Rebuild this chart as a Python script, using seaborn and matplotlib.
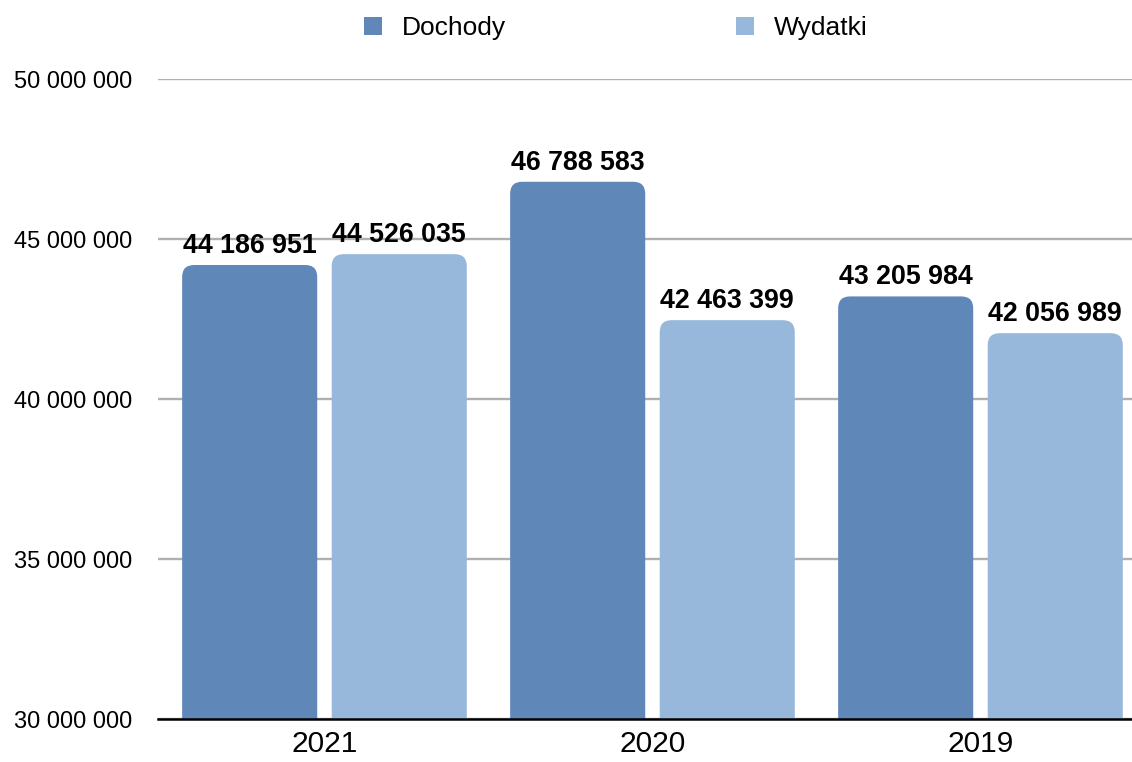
import matplotlib
matplotlib.use("Agg")
import matplotlib.pyplot as plt
import seaborn as sns
import pandas as pd
from matplotlib.patches import FancyBboxPatch, Patch
from matplotlib.transforms import IdentityTransform
from matplotlib.ticker import FuncFormatter

years = ["2021", "2020", "2019"]
dochody = [44186951, 46788583, 43205984]
wydatki = [44526035, 42463399, 42056989]
series = ["Dochody", "Wydatki"]
colors = ["#5f87b8", "#97b8da"]
yticks = [30000000, 35000000, 40000000, 45000000, 50000000]

df = pd.DataFrame({
    "rok": years * 2,
    "seria": [series[0]] * 3 + [series[1]] * 3,
    "kwota": dochody + wydatki,
})

sns.set_style("white")
plt.rcParams["font.family"] = ["Liberation Sans", "DejaVu Sans"]
plt.rcParams["text.color"] = "black"

W, H = 1132, 762
fig = plt.figure(figsize=(W / 100, H / 100), dpi=100)
ax = fig.add_axes([158 / W, 1 - 719 / H, (1132 - 158) / W, (719 - 79) / H])

sns.barplot(data=df, x="rok", y="kwota", hue="seria", order=years,
            hue_order=series, palette=colors, width=0.912, gap=0.097,
            saturation=1, legend=False, ax=ax, errorbar=None)

ax.set_xlim(-0.5075, 2.462)
ax.set_ylim(30000000, 50000000)
ax.set_yticks(yticks)
ax.yaxis.set_major_formatter(FuncFormatter(lambda v, p: f"{int(v):,}".replace(",", " ")))
ax.grid(axis="y", color="#b0b0b0", linewidth=1.7)
ax.grid(axis="x", visible=False)
ax.set_axisbelow(True)
for s in ["top", "right", "left"]:
    ax.spines[s].set_visible(False)
ax.spines["bottom"].set_color("black")
ax.spines["bottom"].set_linewidth(1.8)
ax.spines["bottom"].set_zorder(5)
ax.tick_params(axis="y", length=0, pad=18.5, labelsize=17, labelcolor="black")
ax.tick_params(axis="x", length=0, pad=8, labelsize=21.5, labelcolor="black")
ax.set_xlabel("")
ax.set_ylabel("")

for cont in ax.containers:
    ax.bar_label(cont, labels=[f"{int(v):,}".replace(",", " ") for v in cont.datavalues],
                 padding=4.5, fontsize=19.3, fontweight="bold", color="black")

# rounded top corners
for p in list(ax.patches):
    x0, y0, w, h = p.get_x(), p.get_y(), p.get_width(), p.get_height()
    (dx0, dy0) = ax.transData.transform((x0, y0))
    (dx1, dy1) = ax.transData.transform((x0 + w, y0 + h))
    rp = FancyBboxPatch((dx0, dy0), dx1 - dx0, dy1 - dy0,
                        boxstyle="round,pad=0,rounding_size=12",
                        transform=IdentityTransform(), facecolor=p.get_facecolor(),
                        edgecolor="none", zorder=2)
    ax.add_artist(rp)
    rp.set_clip_path(ax.patch)
    p.set_visible(False)

handles = [Patch(facecolor=c, edgecolor="none") for c in colors]
fig.legend(handles, series, loc="center left", bbox_to_anchor=(364 / W, 1 - 28 / H),
           ncol=2, frameon=False, fontsize=19, handlelength=0.68, handleheight=0.68,
           handletextpad=0.76, columnspacing=8.7, borderpad=0, borderaxespad=0,
           labelcolor="black")

fig.savefig("out.png", dpi=100)
